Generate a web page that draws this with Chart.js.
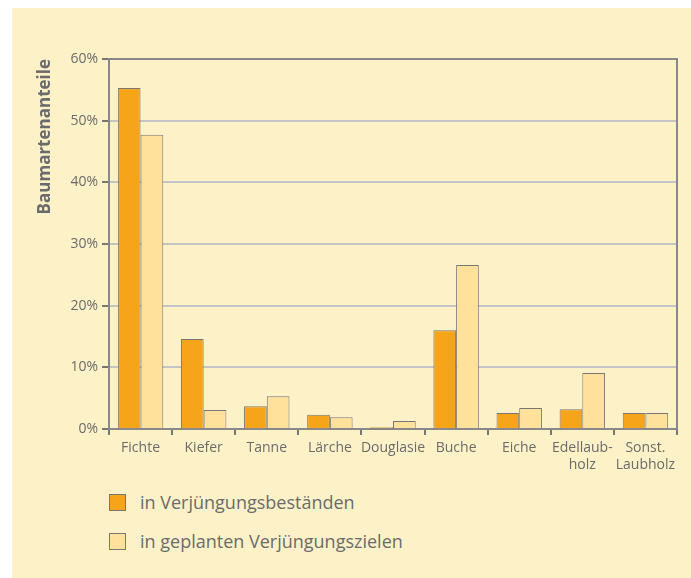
<!DOCTYPE html>
<html>
<head>
<meta charset="utf-8">
<script src="https://cdn.jsdelivr.net/npm/chart.js@4"></script>
<style>
  body{margin:0;background:#fff;font-family:"Open Sans",sans-serif;}
  #panel{position:absolute;left:12px;top:8px;width:679px;height:570px;background:#fdf2c7;}
  #wrap{position:absolute;left:0;top:0;width:691px;height:480px;}
  .leg{position:absolute;left:109px;font-size:18px;color:#6b6b6b;}
  .leg span{position:absolute;left:0;top:4px;width:15px;height:15px;border:1px solid #777;}
  .leg div{position:absolute;left:31px;top:0;white-space:nowrap;}
</style>
</head>
<body>
<div id="panel"></div>
<div id="wrap"><canvas id="c" width="691" height="480"></canvas></div>
<div class="leg" style="top:490px"><span style="background:#f6a51b"></span><div>in Verjüngungsbeständen</div></div>
<div class="leg" style="top:529px"><span style="background:#ffe19c"></span><div>in geplanten Verjüngungszielen</div></div>
<script>
// Baumarten
const categories=["Fichte","Kiefer","Tanne","Lärche","Douglasie","Buche","Eiche",["Edellaub-","holz"],["Sonst.","Laubholz"]];
const bestand=[55.3,14.6,3.7,2.3,0.3,16.0,2.6,3.2,2.6];
const ziel=[47.7,3.1,5.3,1.9,1.3,26.6,3.4,9.1,2.6];
const yTicks=[0,10,20,30,40,50,60];

const txt='#6b6b6b';

// Rahmen oben/rechts
const frame={
  id:'frame',
  afterDraw(chart){
    const {ctx,chartArea:a}=chart;
    ctx.save();
    ctx.strokeStyle='#888';
    ctx.lineWidth=2;
    ctx.beginPath();
    ctx.moveTo(a.left,a.top);ctx.lineTo(a.right,a.top);ctx.lineTo(a.right,a.bottom);
    ctx.stroke();
    ctx.restore();
  }
};

new Chart(document.getElementById("c"),{
  type:'bar',
  data:{labels:categories,datasets:[
    {label:"in Verjüngungsbeständen",data:bestand,backgroundColor:"#f6a51b",borderColor:"#777",borderWidth:1},
    {label:"in geplanten Verjüngungszielen",data:ziel,backgroundColor:"#ffe19c",borderColor:"#777",borderWidth:1}
  ]},
  options:{
    responsive:false,
    animation:false,
    layout:{padding:{left:0,right:14,top:59,bottom:0}},
    categoryPercentage:0.72,
    barPercentage:1,
    plugins:{legend:{display:false},tooltip:{enabled:false}},
    scales:{
      x:{
        grid:{offset:true,drawOnChartArea:false,drawTicks:true,tickLength:6,color:'#777',lineWidth:2},
        border:{color:'#888',width:2},
        ticks:{color:txt,font:{family:"Open Sans",size:14},padding:5,maxRotation:0,autoSkip:false},
        afterFit(s){s.height=51;}
      },
      y:{
        min:0,max:60,
        afterBuildTicks(s){s.ticks=yTicks.map(v=>({value:v}));},
        grid:{color:'#c4c4c4',lineWidth:2,tickLength:7,tickColor:'#777'},
        border:{color:'#888',width:2},
        ticks:{color:txt,font:{family:"Open Sans",size:14},padding:4,callback:v=>v+'%'},
        title:{display:true,text:"Baumartenanteile",align:'end',color:txt,font:{family:"Open Sans",size:17,weight:'bold'},padding:{top:35,bottom:0}},
        afterFit(s){s.width=109;}
      }
    }
  },
  plugins:[frame]
});
</script>
</body>
</html>
